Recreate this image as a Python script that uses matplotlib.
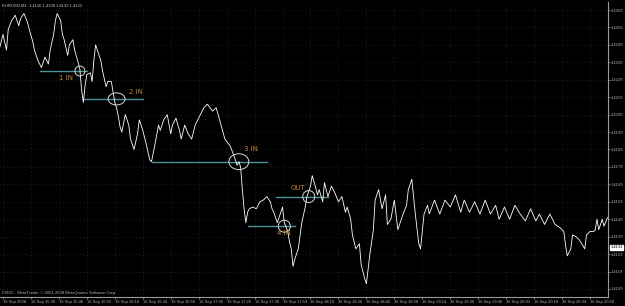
import numpy as np
import matplotlib
matplotlib.use("Agg")
import matplotlib.pyplot as plt
from matplotlib.patches import Ellipse

# EURUSD M1, minutes after 15:14 and price
minutes = [-2, 0, 2, 3, 5, 7, 9, 10, 12, 14, 15, 17, 18, 20, 22, 24, 26, 27, 29, 30,
           31, 33, 34, 35, 37, 38, 40, 41, 43, 44, 45, 46, 47, 48, 50, 51, 52, 53, 54, 56,
           57, 59, 60, 62, 64, 65, 66, 67, 68, 70, 72, 73, 75, 77, 78, 80, 82, 84, 85, 87,
           89, 90, 92, 94, 96, 97, 99, 101, 102, 104, 106, 108, 110, 113, 115, 117, 120, 122, 124, 127,
           130, 132, 134, 135, 136, 137, 138, 139, 140, 141, 143, 145, 147, 149, 151, 153, 154, 155, 157, 159,
           160, 161, 163, 164, 165, 166, 167, 169, 171, 173, 174, 176, 177, 179, 180, 181, 183, 184, 186, 188,
           190, 192, 194, 196, 197, 199, 200, 202, 204, 205, 207, 208, 210, 212, 213, 215, 217, 219, 220, 222,
           224, 226, 227, 229, 231, 232, 234, 236, 238, 239, 241, 243, 244, 247, 250, 253, 256, 259, 262, 264,
           267, 270, 273, 276, 279, 282, 284, 287, 290, 293, 296, 299, 302, 305, 307, 310, 313, 316, 319, 321,
           322, 323, 325, 326, 328, 330, 333, 334, 336, 338, 339, 340, 341, 343, 344, 346]
price = [1.4247, 1.4255, 1.4246, 1.4258, 1.4263, 1.4266, 1.4260, 1.4264, 1.4267, 1.4262,
         1.4258, 1.4251, 1.4246, 1.4240, 1.4236, 1.4242, 1.4238, 1.4246, 1.4255, 1.4263,
         1.4267, 1.4263, 1.4255, 1.4252, 1.4243, 1.4249, 1.4252, 1.4246, 1.4239, 1.4235,
         1.4223, 1.4216, 1.4226, 1.4232, 1.4233, 1.4228, 1.4240, 1.4249, 1.4246, 1.4240,
         1.4234, 1.4225, 1.4228, 1.4228, 1.4216, 1.4213, 1.4208, 1.4202, 1.4199, 1.4209,
         1.4203, 1.4195, 1.4189, 1.4198, 1.4206, 1.4200, 1.4192, 1.4183, 1.4182, 1.4192,
         1.4203, 1.4200, 1.4206, 1.4209, 1.4198, 1.4203, 1.4207, 1.4200, 1.4195, 1.4203,
         1.4198, 1.4195, 1.4203, 1.4209, 1.4213, 1.4215, 1.4211, 1.4213, 1.4206, 1.4195,
         1.4191, 1.4186, 1.4180, 1.4182, 1.4179, 1.4166, 1.4155, 1.4147, 1.4153, 1.4155,
         1.4156, 1.4155, 1.4159, 1.4160, 1.4162, 1.4159, 1.4155, 1.4153, 1.4147, 1.4153,
         1.4156, 1.4147, 1.4142, 1.4136, 1.4132, 1.4122, 1.4126, 1.4132, 1.4147, 1.4156,
         1.4162, 1.4168, 1.4174, 1.4167, 1.4163, 1.4166, 1.4159, 1.4170, 1.4162, 1.4168,
         1.4164, 1.4159, 1.4162, 1.4153, 1.4156, 1.4149, 1.4140, 1.4132, 1.4135, 1.4123,
         1.4115, 1.4112, 1.4129, 1.4143, 1.4160, 1.4166, 1.4155, 1.4163, 1.4146, 1.4149,
         1.4160, 1.4143, 1.4146, 1.4152, 1.4157, 1.4166, 1.4172, 1.4152, 1.4135, 1.4132,
         1.4152, 1.4157, 1.4152, 1.4160, 1.4152, 1.4160, 1.4156, 1.4163, 1.4153, 1.4160,
         1.4153, 1.4159, 1.4152, 1.4160, 1.4152, 1.4157, 1.4149, 1.4156, 1.4149, 1.4157,
         1.4152, 1.4148, 1.4155, 1.4148, 1.4152, 1.4146, 1.4152, 1.4146, 1.4144, 1.4142,
         1.4134, 1.4128, 1.4132, 1.4140, 1.4139, 1.4137, 1.4132, 1.4140, 1.4142, 1.4142,
         1.4143, 1.4149, 1.4143, 1.4149, 1.4145, 1.4150]

# trade marks: label, level, line start, line end, circle minute, text minute, text price
trade_names = ["1 IN", "2 IN", "3 IN", "4 IN", "OUT"]
trade_level = [1.4234, 1.4218, 1.4182, 1.4145, 1.4162]
trade_from = [21, 46, 85, 140, 156]
trade_to = [48, 80, 151, 167, 186]
trade_hit = [44, 65, 135, 161, 175]
text_min = [36, 76, 142, 161, 169]
text_price = [1.4230, 1.4222, 1.4189, 1.4141, 1.4167]
circle_w = [5.7, 9.7, 11.4, 6.9, 6.9]
circle_h = [0.00057, 0.00069, 0.00091, 0.00069, 0.00069]

yticks = [1.4109 + 0.001 * i for i in range(17)]
xtick_min = list(range(0, 337, 16))
xtick_lab = ["16 Sep 2008"] + ["16 Sep %d:%02d" % ((15 * 60 + 14 + m) // 60, (15 * 60 + 14 + m) % 60) for m in xtick_min[1:]]
last_price = 1.4133

small = "Liberation Sans"

fig = plt.figure(figsize=(6.25, 3.06), dpi=100, facecolor="black")
ax = fig.add_axes([0, 9 / 306, 608 / 625, 295 / 306], facecolor="black")

ax.plot(minutes, price, color="white", lw=0.6, zorder=3)

for i in range(len(trade_names)):
    ax.plot([trade_from[i], trade_to[i]], [trade_level[i], trade_level[i]], color="#4f8f97", lw=1.0, zorder=2)
    ax.add_patch(Ellipse((trade_hit[i], trade_level[i]), circle_w[i], circle_h[i], fill=False,
                         edgecolor="#d8d8d8", lw=0.7, zorder=4))
    ax.text(text_min[i], text_price[i], trade_names[i], color="#c8843c", fontsize=5,
            ha="center", va="center", zorder=6)

ax.set_xlim(-1.72, 346.3)
ax.set_ylim(1.41044, 1.42736)

ax.set_yticks(yticks)
ax.set_yticklabels(["%.4f" % v for v in yticks], family=small)
ax.yaxis.tick_right()
ax.set_xticks(xtick_min)
ax.set_xticklabels(xtick_lab, ha="left", family=small)
ax.tick_params(axis="both", colors="#b0b0b0", labelsize=3.0, length=1.5, width=0.5, pad=0.5)
for s in ax.spines.values():
    s.set_color("#9a9a9a")
    s.set_linewidth(0.8)
ax.spines["left"].set_visible(False)
ax.spines["top"].set_visible(False)
ax.grid(True, color="#3c3c3c", linestyle=(0, (1, 4)), lw=0.5)

ax.text(0.004, 0.995, "EURUSD,M1  1.4136 1.4138 1.4132 1.4133", transform=ax.transAxes,
        color="#c8c8c8", fontsize=3.0, va="top", ha="left", family=small)
ax.text(0.004, 0.008, "FXDD - MetaTrader, \u00a9 2001-2008 MetaQuotes Software Corp.", transform=ax.transAxes,
        color="#b0b0b0", fontsize=3.0, va="bottom", ha="left", family=small)
ax.text(1.004, last_price, "%.4f" % last_price, transform=ax.get_yaxis_transform(),
        color="black", fontsize=3.0, va="center", ha="left", family=small,
        bbox=dict(boxstyle="square,pad=0.1", fc="white", ec="white"))

fig.savefig("out.png", dpi=100, facecolor="black")
